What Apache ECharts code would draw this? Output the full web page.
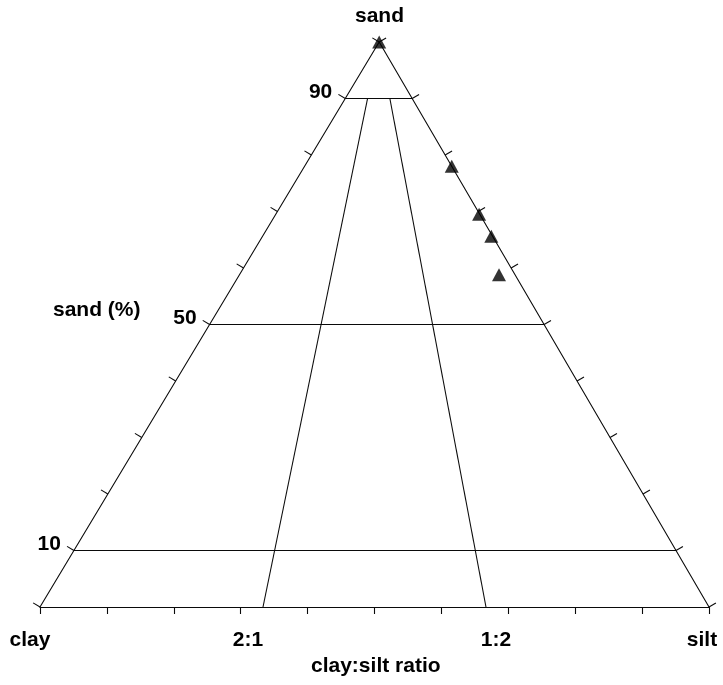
<!DOCTYPE html>
<html>
<head>
<meta charset="utf-8">
<script src="https://cdn.jsdelivr.net/npm/echarts@6/dist/echarts.min.js"></script>
<style>
  html, body { margin: 0; padding: 0; background: #fff; }
  #chart { width: 723px; height: 685px; }
</style>
</head>
<body>
<div id="chart"></div>
<script>
// Sand / silt / clay composition of the samples (percent)
const sampleSand = [100, 78, 69.5, 65.6, 58.8];
const sampleSilt = [0, 22, 30.4, 34.2, 38.8];
const sampleClay = [0, 0, 0.1, 0.2, 2.4];

// Tick positions along the sand edges and the base (percent)
const sandTicks = [0, 10, 20, 30, 40, 50, 60, 70, 80, 90, 100];
// Sand levels drawn as horizontal guide lines, with their labels
const sandLevels = [90, 50, 10];
const sandLevelLabels = ['90', '50', '10'];

// Clay:silt ratio guide lines (clay part, silt part), running up to the top sand level
const ratioClay = [2, 1];
const ratioSilt = [1, 2];
const ratioLabels = ['2:1', '1:2'];
const ratioTopSand = 90;

// Labels along the base
const baseLabels = ['clay', '2:1', '1:2', 'silt'];
const baseLabelSilt = [0, 100 * 1 / 3, 100 * 2 / 3, 100];

// ---- layout ----
const APEX_X = 50.7;              // horizontal position of the sand corner in base units
const TICK_LEN = 8;
const INK = '#0a0a0a';
const FONT = 'bold 21px "Liberation Sans", Arial, sans-serif';
const baseLabelDx = [-10, -15, 10, -7];
const BASE_LABEL_DY = 33;

// ternary (sand, silt) -> plane coordinates of the hidden cartesian system
function toXY(sand, silt) {
  return [silt + sand * APEX_X / 100, sand];
}

const lineStyle = { color: INK, width: 1.1 };

function segmentSeries(points) {
  return {
    type: 'line',
    data: points,
    symbol: 'none',
    silent: true,
    lineStyle: lineStyle,
    z: 2
  };
}

const series = [];

// triangle sides (the base is the x axis line)
series.push(segmentSeries([toXY(0, 0), toXY(100, 0), toXY(0, 100)]));

// horizontal sand-level lines
sandLevels.forEach(function (s) {
  series.push(segmentSeries([toXY(s, 0), toXY(s, 100 - s)]));
});

// clay:silt ratio lines
ratioClay.forEach(function (c, i) {
  const share = ratioSilt[i] / (c + ratioSilt[i]);
  series.push(segmentSeries([
    toXY(0, 100 * share),
    toXY(ratioTopSand, (100 - ratioTopSand) * share)
  ]));
});

// ticks on the two sand edges, plus the sand-level labels
series.push({
  type: 'custom',
  silent: true,
  z: 3,
  data: sandTicks.map(function (s) { return [s]; }),
  renderItem: function (params, api) {
    const s = api.value(0);
    const c0 = api.coord(toXY(0, 0));
    const cA = api.coord(toXY(100, 0));
    const c1 = api.coord(toXY(0, 100));
    const ldx = cA[0] - c0[0], ldy = cA[1] - c0[1];
    const llen = Math.hypot(ldx, ldy);
    const ln = [ldy / llen, -ldx / llen];
    const rdx = cA[0] - c1[0], rdy = cA[1] - c1[1];
    const rlen = Math.hypot(rdx, rdy);
    const rn = [-rdy / rlen, rdx / rlen];
    const pl = api.coord(toXY(s, 0));
    const pr = api.coord(toXY(s, 100 - s));
    const children = [
      { type: 'line', shape: { x1: pl[0], y1: pl[1], x2: pl[0] + ln[0] * TICK_LEN, y2: pl[1] + ln[1] * TICK_LEN },
        style: { stroke: INK, lineWidth: 1.1 } },
      { type: 'line', shape: { x1: pr[0], y1: pr[1], x2: pr[0] + rn[0] * TICK_LEN, y2: pr[1] + rn[1] * TICK_LEN },
        style: { stroke: INK, lineWidth: 1.1 } }
    ];
    const k = sandLevels.indexOf(s);
    if (k >= 0) {
      children.push({
        type: 'text',
        style: { text: sandLevelLabels[k], x: pl[0] - 13, y: pl[1] - 6, font: FONT, fill: '#000',
                 align: 'right', verticalAlign: 'middle' }
      });
    }
    return { type: 'group', children: children };
  }
});

// base labels
series.push({
  type: 'custom',
  silent: true,
  z: 3,
  data: baseLabelSilt.map(function (v, i) { return [v, i]; }),
  renderItem: function (params, api) {
    const i = api.value(1);
    const p = api.coord([api.value(0), 0]);
    return {
      type: 'text',
      style: { text: baseLabels[i], x: p[0] + baseLabelDx[i], y: p[1] + BASE_LABEL_DY, font: FONT, fill: '#000',
               align: 'center', verticalAlign: 'middle' }
    };
  }
});

// samples
series.push({
  type: 'scatter',
  symbol: 'triangle',
  symbolSize: [14, 13],
  itemStyle: { color: '#000' },
  z: 5,
  data: sampleSand.map(function (s, i) { return toXY(s, sampleSilt[i]); })
});

const chart = echarts.init(document.getElementById('chart'));
chart.setOption({
  animation: false,
  backgroundColor: '#fff',
  grid: { left: 40, right: 14, top: 42, bottom: 78 },
  xAxis: {
    type: 'value',
    min: 0, max: 100, interval: 10,
    axisLine: { show: true, lineStyle: { color: INK, width: 1.1 } },
    axisTick: { show: true, length: 7, lineStyle: { color: INK, width: 1.1 } },
    axisLabel: { show: false },
    splitLine: { show: false }
  },
  yAxis: {
    type: 'value',
    min: 0, max: 100,
    show: false
  },
  graphic: [
    { type: 'text', left: 379 - 24, top: 6, style: { text: 'sand', font: FONT, fill: '#000' } },
    { type: 'text', left: 53, top: 300, style: { text: 'sand (%)', font: FONT, fill: '#000' } },
    { type: 'text', left: 311, top: 656, style: { text: 'clay:silt ratio', font: FONT, fill: '#000' } }
  ],
  series: series
});
</script>
</body>
</html>
